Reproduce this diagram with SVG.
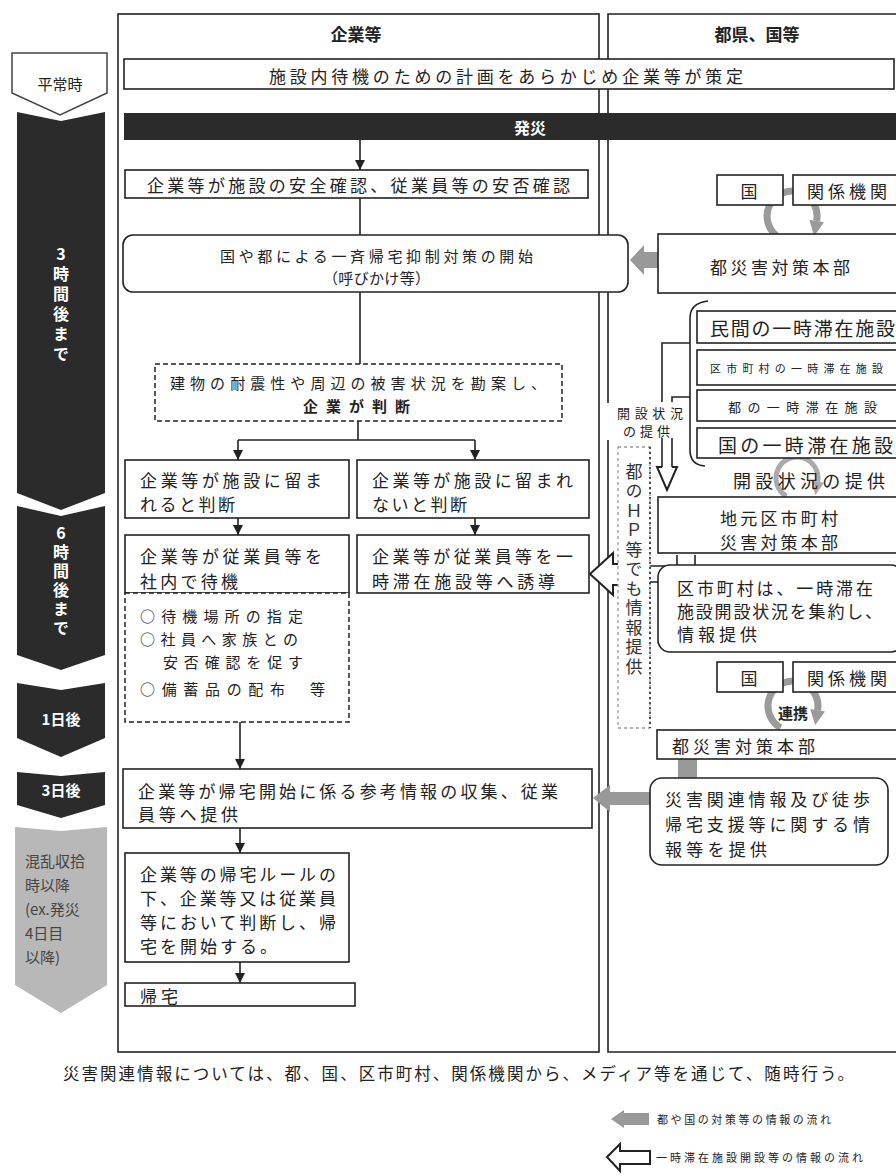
<svg xmlns="http://www.w3.org/2000/svg" width="896" height="1176" viewBox="0 0 896 1176">
<style>
text{font-family:"Noto Sans CJK JP","Noto Sans CJK SC",sans-serif;fill:#222;dominant-baseline:central;font-size:17px}
.b{font-weight:bold}
.c{text-anchor:middle}
.w{fill:#fff;font-weight:bold}
.v{writing-mode:vertical-rl;text-orientation:upright}
.m{font-size:15px}
.box{fill:#fff;stroke:#222;stroke-width:1.6}
.dash{fill:#fff;stroke:#222;stroke-width:1.5;stroke-dasharray:5 3}
.ln{fill:none;stroke:#222;stroke-width:1.6}
.dark{fill:#2b2b2b}
.ring{fill:none;stroke:#9a9a9a;stroke-width:7}
.gray{fill:#999}
.hollow{fill:#fff;stroke:#222;stroke-width:2;stroke-linejoin:miter}
.small{font-size:11px}
</style>
<defs>
<marker id="ah" viewBox="0 0 10 10" refX="10" refY="5" markerWidth="12" markerHeight="10" orient="auto" markerUnits="userSpaceOnUse">
<path d="M0,0 L10,5 L0,10 Z" fill="#222"/>
</marker>
</defs>
<rect width="896" height="1176" fill="#fff"/>

<g id="panels">
<rect x="118" y="14" width="481" height="1038" fill="none" stroke="#222" stroke-width="1.6"/>
<path d="M900,14 H608 V403 M608,440 V1052 H900" fill="none" stroke="#222" stroke-width="1.6"/>
<text class="b c" x="356" y="33">企業等</text>
<text class="b c" x="757" y="33">都県、国等</text>
</g>

<g id="timeline">
<g id="t0"><path d="M12,53 H107 V93 L60,115 L12,93 Z" fill="#fff" stroke="#444" stroke-width="1.5"/><text class="c" x="60" y="83" style="font-size:15px">平常時</text></g>
<g id="t1"><path class="dark" d="M17,112 L61,121 L105,112 V493 L61,510 L17,493 Z"/>
<text class="w v" x="61" y="246" style="font-size:16px;letter-spacing:4px">3時間後まで</text></g>
<g id="t2"><path class="dark" d="M17,506 L61,516 L105,506 V655 L61,670 L17,655 Z"/>
<text class="w v" x="61" y="525" style="font-size:16px;letter-spacing:3px">6時間後まで</text></g>
<g id="t3"><path class="dark" d="M17,683 L61,690 L105,683 V738 L61,757 L17,738 Z"/><text class="w c" x="61" y="718" style="font-size:15px">1日後</text></g>
<g id="t4"><path class="dark" d="M17,772 L61,776 L105,772 V805 L61,818 L17,805 Z"/><text class="w c" x="61" y="789" style="font-size:15px">3日後</text></g>
<g id="t5"><path d="M15,827 L61,831 L107,827 V985 L61,1013 L15,985 Z" fill="#b8b8b8"/>
<text x="25" y="860" style="font-size:15px;fill:#444">混乱収拾</text>
<text x="25" y="884" style="font-size:15px;fill:#444">時以降</text>
<text x="25" y="908" style="font-size:15px;fill:#444">(ex.発災</text>
<text x="25" y="932" style="font-size:15px;fill:#444">4日目</text>
<text x="25" y="956" style="font-size:15px;fill:#444">以降)</text></g>
</g>

<g id="connectors">
<line class="ln" x1="360" y1="140" x2="360" y2="170" marker-end="url(#ah)"/>
<line class="ln" x1="360" y1="198" x2="360" y2="235"/>
<line class="ln" x1="360" y1="292" x2="360" y2="364"/>
<path class="ln" d="M358,421 V440 M238,440 H475"/>
<line class="ln" x1="238" y1="440" x2="238" y2="460" marker-end="url(#ah)"/>
<line class="ln" x1="475" y1="440" x2="475" y2="460" marker-end="url(#ah)"/>
<line class="ln" x1="238" y1="518" x2="238" y2="535" marker-end="url(#ah)"/>
<line class="ln" x1="475" y1="518" x2="475" y2="535" marker-end="url(#ah)"/>
<line class="ln" x1="240" y1="722" x2="240" y2="769" marker-end="url(#ah)"/>
<line class="ln" x1="240" y1="828" x2="240" y2="853" marker-end="url(#ah)"/>
<line class="ln" x1="240" y1="962" x2="240" y2="983" marker-end="url(#ah)"/>
<polygon class="gray" points="630,260 644,245 644,252 658,252 658,268 644,268 644,275"/>
<rect class="gray" x="678" y="759" width="19" height="20"/>
<polygon class="gray" points="593,798 610,785 610,792 650,792 650,805 610,805 610,812"/>
<path class="ring" d="M780,238 A25,25 0 1 1 816.6,221"/>
<polygon fill="#9a9a9a" points="824,222.3 809.3,219.7 814.2,236"/>
<path class="ring" d="M786.5,496.2 A21,21 0 1 1 817.7,481.6" style="stroke:#aaa;stroke-width:5"/>
<polygon fill="#aaa" points="824,482.8 811.4,480.4 815.3,495.3"/>
<path class="ring" d="M780.5,727.7 A25,25 0 1 1 817.6,710.3"/>
<polygon fill="#9a9a9a" points="825,711.6 810.2,709 815.2,725"/>
<path class="ln" d="M708,301 Q690,303 690,318 V450 Q690,465 705,466"/>
<path class="ln" d="M690,343 H662 V467 M690,397 H672 V467"/>
<path class="hollow" d="M662,467 H657 L667,490 L677,467 H672"/>
<path class="hollow" d="M650,564 H613 V553 L590,574 L613,595 V585 H650"/>
<path class="ln" d="M650,566 H677 V555 M695,555 V566 M650,582 H658"/>
</g>

<g id="n-plan"><rect class="box" x="124" y="59" width="770" height="30"/><text x="269" y="75" textLength="474" lengthAdjust="spacing">施設内待機のための計画をあらかじめ企業等が策定</text></g>
<g id="n-hassai"><rect class="dark" x="124" y="113" width="772" height="27"/><text class="w c" x="530" y="127" style="font-size:16px">発災</text></g>
<g id="n-anzen"><rect class="box" x="125" y="170" width="463" height="28"/><text x="147" y="184" textLength="423" lengthAdjust="spacing">企業等が施設の安全確認、従業員等の安否確認</text></g>
<g id="n-yokusei"><rect class="box" x="123" y="235" width="505" height="57" rx="10"/><text class="m" x="220" y="255" textLength="313" lengthAdjust="spacing">国や都による一斉帰宅抑制対策の開始</text><text class="m" x="323" y="277" textLength="107" lengthAdjust="spacing">（呼びかけ等）</text></g>
<g id="n-handan"><rect class="dash" x="155" y="364" width="407" height="57"/><text class="m" x="170" y="382" textLength="376" lengthAdjust="spacing">建物の耐震性や周辺の被害状況を勘案し、</text><text class="b m" x="303" y="405" textLength="107" lengthAdjust="spacing">企業が判断</text></g>
<g id="n-todomaru"><rect class="box" x="125" y="460" width="224" height="58"/><text x="140" y="479" textLength="182" lengthAdjust="spacing">企業等が施設に留ま</text><text x="140" y="503" textLength="95" lengthAdjust="spacing">れると判断</text></g>
<g id="n-todomarenai"><rect class="box" x="357" y="460" width="232" height="58"/><text x="372" y="479" textLength="201" lengthAdjust="spacing">企業等が施設に留まれ</text><text x="372" y="503" textLength="95" lengthAdjust="spacing">ないと判断</text></g>
<g id="n-taiki"><rect class="box" x="125" y="535" width="224" height="58"/><text x="140" y="555" textLength="182" lengthAdjust="spacing">企業等が従業員等を</text><text x="140" y="580" textLength="98" lengthAdjust="spacing">社内で待機</text></g>
<g id="n-yudo"><rect class="box" x="357" y="535" width="232" height="58"/><text x="372" y="555" textLength="201" lengthAdjust="spacing">企業等が従業員等を一</text><text x="372" y="580" textLength="183" lengthAdjust="spacing">時滞在施設等へ誘導</text></g>
<g id="n-taiki-detail"><rect class="dash" x="125" y="593" width="224" height="129"/><text class="m" x="140" y="615" textLength="163" lengthAdjust="spacing">○待機場所の指定</text><text class="m" x="140" y="638" textLength="158" lengthAdjust="spacing">○社員へ家族との</text><text class="m" x="163" y="661" textLength="140" lengthAdjust="spacing">安否確認を促す</text><text class="m" x="140" y="688" textLength="145" lengthAdjust="spacing">○備蓄品の配布</text><text class="m" x="310" y="688">等</text></g>
<g id="n-sanko"><rect class="box" x="123" y="769" width="469" height="59"/><text x="138" y="790" textLength="420" lengthAdjust="spacing">企業等が帰宅開始に係る参考情報の収集、従業</text><text x="138" y="813" textLength="100" lengthAdjust="spacing">員等へ提供</text></g>
<g id="n-rule"><rect class="box" x="125" y="853" width="224" height="109"/><text x="140" y="873" textLength="196" lengthAdjust="spacing">企業等の帰宅ルールの</text><text x="140" y="897" textLength="196" lengthAdjust="spacing">下、企業等又は従業員</text><text x="140" y="921" textLength="196" lengthAdjust="spacing">等において判断し、帰</text><text x="140" y="945" textLength="137" lengthAdjust="spacing">宅を開始する。</text></g>
<g id="n-kitaku"><rect class="box" x="125" y="983" width="230" height="23"/><text x="140" y="995" textLength="38" lengthAdjust="spacing">帰宅</text></g>

<g id="n-kuni1"><rect class="box" x="717" y="175" width="66" height="30"/><text class="c" x="749" y="190">国</text></g>
<g id="n-kankei1"><rect class="box" x="793" y="175" width="110" height="30"/><text x="807" y="190" textLength="80" lengthAdjust="spacing">関係機関</text></g>
<g id="n-to1"><rect class="box" x="658" y="234" width="245" height="59"/><text x="710" y="266" textLength="140" lengthAdjust="spacing">都災害対策本部</text></g>
<g id="n-minkan"><rect class="box" x="697" y="311" width="205" height="32"/><text x="710" y="327" style="font-size:19px" textLength="185" lengthAdjust="spacing">民間の一時滞在施設</text></g>
<g id="n-kushi"><rect class="box" x="697" y="350" width="205" height="35"/><text class="small" x="710" y="368" textLength="173" lengthAdjust="spacing">区市町村の一時滞在施設</text></g>
<g id="n-tono"><rect class="box" x="697" y="390" width="205" height="31"/><text x="728" y="406" style="font-size:13px" textLength="149" lengthAdjust="spacing">都の一時滞在施設</text></g>
<g id="n-kunino"><rect class="box" x="697" y="428" width="205" height="30"/><text x="718" y="444" style="font-size:19px" textLength="175" lengthAdjust="spacing">国の一時滞在施設</text></g>
<g id="n-kaisetsu"><text x="733" y="480" style="font-size:18px" textLength="152" lengthAdjust="spacing">開設状況の提供</text></g>
<g id="n-kaisetsu-small"><rect x="614" y="402" width="72" height="36" fill="#fff"/><text x="617" y="412" style="font-size:13px" textLength="66" lengthAdjust="spacing">開設状況</text><text x="623" y="430" style="font-size:13px" textLength="47" lengthAdjust="spacing">の提供</text></g>
<g id="n-jimoto"><rect class="box" x="658" y="497" width="245" height="56"/><text x="720" y="517" textLength="118" lengthAdjust="spacing">地元区市町村</text><text x="720" y="541" textLength="118" lengthAdjust="spacing">災害対策本部</text></g>
<g id="n-shuyaku"><rect class="box" x="658" y="565" width="245" height="87" rx="12"/><text x="677" y="587" textLength="196" lengthAdjust="spacing">区市町村は、一時滞在</text><text x="677" y="610" textLength="205" lengthAdjust="spacing">施設開設状況を集約し、</text><text x="677" y="633" textLength="80" lengthAdjust="spacing">情報提供</text></g>
<g id="n-hp"><rect x="618" y="447" width="32" height="281" fill="#fff" stroke="#999" stroke-width="1.3" stroke-dasharray="3 3"/><line x1="650" y1="447" x2="650" y2="728" stroke="#222" stroke-width="1.5" stroke-dasharray="2 3"/>
<text class="v" x="634" y="463" style="font-size:17px;fill:#333;letter-spacing:2.5px">都のＨＰ等でも情報提供</text></g>
<g id="n-kuni2"><rect class="box" x="717" y="662" width="66" height="30"/><text class="c" x="749" y="677">国</text></g>
<g id="n-kankei2"><rect class="box" x="793" y="662" width="110" height="30"/><text x="807" y="677" textLength="80" lengthAdjust="spacing">関係機関</text></g>
<g id="n-renkei"><text class="b c" x="793" y="712" style="font-size:15px">連携</text></g>
<g id="n-to2"><rect class="box" x="657" y="730" width="246" height="29"/><text x="672" y="745" textLength="143" lengthAdjust="spacing">都災害対策本部</text></g>
<g id="n-saigai"><rect class="box" x="650" y="778" width="238" height="87" rx="12"/><text x="665" y="798" textLength="205" lengthAdjust="spacing">災害関連情報及び徒歩</text><text x="665" y="823" textLength="205" lengthAdjust="spacing">帰宅支援等に関する情</text><text x="665" y="848" textLength="102" lengthAdjust="spacing">報等を提供</text></g>

<g id="note"><text x="63" y="1073" style="font-size:16.5px" textLength="791" lengthAdjust="spacing">災害関連情報については、都、国、区市町村、関係機関から、メディア等を通じて、随時行う。</text></g>
<g id="legend">
<polygon class="gray" points="611,1119 624,1110 624,1113 649,1113 649,1125 624,1125 624,1128"/>
<text class="small" x="657" y="1119" textLength="174" lengthAdjust="spacing">都や国の対策等の情報の流れ</text>
<polygon class="hollow" points="607,1157 620,1144 620,1151 650,1151 650,1164 620,1164 620,1171"/>
<text class="small" x="656" y="1157" textLength="207" lengthAdjust="spacing">一時滞在施設開設等の情報の流れ</text>
</g>
</svg>
